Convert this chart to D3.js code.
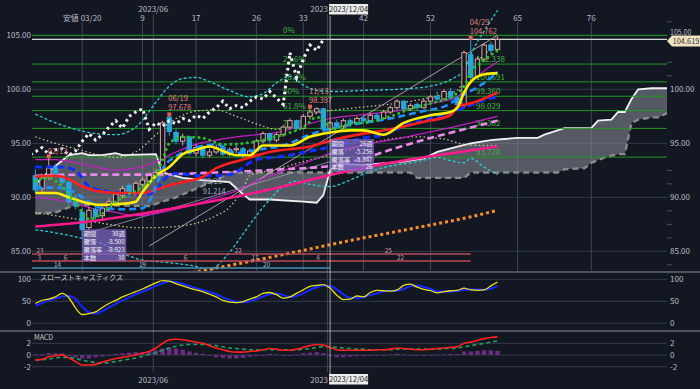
<!DOCTYPE html>
<html lang="ja">
<head>
<meta charset="UTF-8">
<title>週足チャート</title>
<script src="https://d3js.org/d3.v7.min.js"></script>
<style>
  html, body { margin: 0; padding: 0; background: #131722; }
  svg { display: block; font-family: "Noto Sans CJK JP", "DejaVu Sans", sans-serif; }
</style>
</head>
<body>
<svg width="700" height="389"></svg>
<script>
// weekly candles; index 0 is week -7, counted from the 03/20 low (week 0)
const firstWeek = -7;
const opens = [92.0, 90.8, 91.9, 92.8, 92.0, 91.4, 89.8,
  88.6, 87.2, 88.9, 88.3, 89.0, 89.5, 90.2, 91.1, 90.4, 91.2,
  91.5, 92.0, 92.2, 97.4, 96.0, 95.2, 95.6, 94.1, 94.6, 93.9,
  94.2, 94.6, 94.0, 94.4, 94.5, 93.9, 94.3, 95.2, 95.9, 95.3,
  95.8, 96.5, 97.1, 96.4, 97.5, 97.9, 98.2, 96.3, 96.9, 96.6,
  97.1, 96.8, 97.3, 97.1, 97.6, 97.3, 97.9, 98.3, 98.9, 98.2,
  98.6, 98.3, 98.9, 99.3, 99.1, 99.8, 99.2, 98.5, 103.2, 101.2,
  102.8, 104.1, 103.7];
const highs = [92.6, 92.2, 93.8, 93.1, 92.3, 91.6, 90.3,
  89.0, 89.1, 89.2, 89.3, 89.9, 90.6, 91.1, 91.3, 91.5, 91.9,
  92.3, 92.6, 97.1, 97.678, 96.3, 95.9, 95.7, 94.9, 94.8, 94.5,
  94.9, 94.8, 94.6, 94.8, 94.7, 94.5, 95.4, 96.1, 96.0, 96.0,
  96.7, 97.3, 97.2, 97.7, 98.397, 98.35, 98.3, 97.1, 97.2, 97.3,
  97.3, 97.5, 97.6, 97.8, 97.8, 98.1, 98.5, 99.1, 99.0, 98.7,
  98.8, 99.1, 99.5, 99.8, 100.0, 100.1, 99.4, 103.6, 104.762, 103.0,
  104.3, 104.4, 104.9];
const lows = [90.4, 90.5, 91.6, 91.8, 91.2, 89.3, 88.9,
  86.4, 87.0, 87.9, 88.0, 88.7, 89.3, 89.9, 90.0, 90.2, 90.9,
  91.2, 91.7, 92.0, 95.7, 94.9, 94.8, 93.9, 93.8, 93.6, 93.7,
  94.0, 93.8, 93.8, 94.1, 93.6, 93.7, 94.2, 95.0, 95.0, 95.1,
  95.6, 96.3, 96.2, 96.3, 97.2, 97.7, 96.0, 96.1, 96.3, 96.4,
  96.5, 96.7, 96.9, 97.0, 97.1, 97.2, 97.7, 98.1, 98.0, 98.0,
  98.0, 98.2, 98.7, 98.9, 99.0, 99.0, 98.4, 98.3, 100.8, 101.0,
  102.6, 103.3, 103.5];
const closes = [90.7, 91.8, 92.7, 92.0, 91.4, 89.6, 89.2,
  87.0, 88.8, 88.2, 89.0, 89.6, 90.3, 90.8, 90.3, 91.3, 91.6,
  92.0, 92.3, 96.9, 96.1, 95.2, 95.6, 94.1, 94.6, 93.9, 94.2,
  94.6, 94.0, 94.4, 94.5, 93.9, 94.3, 95.2, 95.9, 95.3, 95.8,
  96.5, 97.1, 96.4, 97.5, 97.9, 98.2, 96.3, 96.9, 96.6, 97.1,
  96.8, 97.3, 97.1, 97.6, 97.3, 97.9, 98.3, 98.9, 98.2, 98.5,
  98.3, 98.9, 99.3, 99.1, 99.8, 99.2, 98.6, 103.4, 101.1, 102.8,
  104.1, 103.6, 104.619];

// overlay lines: [week, price]
const lineYellow = [[-7,90.4],[-4,90.4],[-2,90.0],[0,89.6],[3,89.3],[6,89.4],[8,89.6],[9,90.5],[11,92.0],[13,92.8],[15,94.0],[17,94.4],[19,94.7],[21,94.3],[23,93.9],[25,93.9],[27,94.8],[31,94.8],[34,95.6],[37,96.0],[40,96.2],[42,96.2],[45,95.8],[48,96.9],[52,97.6],[55,97.9],[56,98.3],[57,99.7],[58,100.7],[60,101.4],[62,101.5]];
const lineRed = [[-7,91.9],[-4,92.0],[-2,91.7],[0,91.0],[3,90.5],[6,90.4],[9,90.4],[11,90.7],[13,91.1],[15,91.4],[18,91.9],[20,92.7],[24,93.5],[28,94.2],[34,94.7],[38,95.4],[42,95.9],[46,96.3],[51,97.0],[55,97.6],[56,98.4],[58,98.7],[62,99.7]];
const lineBlue = [[-7,92.8],[-3,92.8],[-1,92.5],[1,91.0],[3,90.6],[6,90.4],[9,90.2],[11,90.6],[12,91.5],[14,92.2],[18,92.0],[22,92.1],[26,93.5],[30,93.8],[35,94.4],[38,94.8],[42,95.5],[45,95.8],[48,96.6],[52,97.3],[55,97.8],[57,98.3],[60,99.0],[62,99.3]];
const lineSky = [[-7,90.9],[-4,90.9],[-2,90.7],[0,90.0],[3,89.0],[6,88.9],[9,89.0],[10,89.6],[11,91.0],[12,92.6],[14,93.8],[17,94.6],[20,94.9],[23,94.1],[26,94.4],[30,94.8],[34,95.8],[38,96.5],[42,96.9],[46,97.3],[51,98.0],[54,98.4],[57,99.5],[60,100.6],[62,101.6]];
const lineGreen = [[-7,91.5],[-5,91.8],[-3,91.0],[-1,89.5],[1,88.0],[3,88.5],[5,89.6],[7,90.3],[9,91.0],[11,92.0],[12,93.5],[13,95.0],[15,95.6],[18,95.5],[21,94.9],[24,95.0],[27,95.3],[30,95.8],[33,96.5],[35,97.4],[36,97.2],[37,96.3],[40,96.8],[43,97.0],[46,97.5],[49,98.2],[52,98.7],[55,99.3],[57,100.3],[58,101.5],[60,102.7],[62,103.6]];
const linePink = [[-7,87.3],[0,87.7],[10,88.6],[20,89.7],[30,91.0],[38,92.2],[45,93.1],[52,93.8],[62,94.7]];
const lineViolet = [[-7,92.0],[0,92.1],[10,92.1],[20,92.3],[30,92.6],[37,92.9],[42,93.6],[47,94.6],[52,95.5],[57,96.3],[62,97.1]];
const lineOrange = [[12,82.5],[17,83.1],[22,83.7],[30,84.7],[40,86.0],[50,87.2],[58,88.2],[62,88.8]];

// bands
const band3Upper = [[-7,97.7],[-4,96.9],[-1,96.3],[2,95.9],[5,95.8],[8,96.5],[11,98.8],[13,100.3],[15,101.0],[17,101.1],[19,100.7],[22,99.9],[25,99.3],[27,99.6],[29,100.6],[31,101.2],[33,100.4],[35,99.9],[38,99.8],[42,99.9],[47,100.0],[52,100.3],[55,100.9],[57,101.8],[58,103.2],[59,104.4],[60,105.4],[62,107.3]];
const band3Lower = [[-7,87.0],[-3,86.6],[0,86.2],[3,85.7],[6,84.8],[9,84.2],[12,84.0],[15,83.8],[18,83.4],[19,83.1],[20,83.6],[22,84.9],[24,86.6],[26,88.3],[28,89.8],[30,91.0],[32,91.5],[34,91.2],[37,91.0],[40,91.6],[43,92.4],[46,92.9],[50,93.3],[53,93.7],[55,93.4],[57,93.2],[58,93.6],[60,92.8],[62,92.1]];
const band2Upper = [[-7,95.6],[-4,95.0],[-1,94.5],[2,94.0],[5,93.7],[8,94.2],[11,95.8],[13,96.9],[15,97.6],[17,98.0],[20,98.1],[23,97.5],[26,96.8],[29,96.3],[32,96.9],[35,97.8],[38,98.1],[41,98.3],[44,98.5],[47,98.7],[50,99.0],[53,99.4],[56,99.9],[57,100.9],[58,101.8],[60,103.2],[62,104.3]];
const band2Lower = [[-7,88.6],[-4,88.3],[-1,88.0],[2,87.7],[5,87.4],[8,87.2],[11,87.2],[14,87.3],[17,87.6],[20,88.3],[22,89.1],[24,90.8],[25,92.0],[29,92.6],[33,93.3],[37,93.9],[41,94.6],[46,95.4],[50,95.6],[54,95.4],[57,94.9],[60,94.8],[62,94.8]];
const band1Upper = [[-7,93.5],[-4,93.5],[-1,93.2],[2,92.8],[5,92.5],[8,92.7],[11,93.3],[14,94.2],[17,94.9],[20,95.3],[23,95.6],[26,95.8],[29,96.0],[32,96.5],[35,97.0],[38,97.4],[41,97.6],[44,97.8],[47,98.0],[50,98.4],[53,98.8],[56,99.3],[58,100.6],[60,101.7],[62,102.5]];
const band1Lower = [[-7,90.0],[-4,89.8],[-1,89.4],[2,88.9],[5,88.6],[8,88.3],[11,88.5],[14,88.9],[17,89.4],[20,90.0],[23,90.6],[26,91.5],[29,92.2],[32,92.9],[35,93.6],[38,94.3],[41,94.7],[44,95.1],[47,95.4],[50,95.8],[53,96.2],[56,96.6],[58,96.9],[60,97.2],[62,97.5]];

// cloud spans (already shifted forward)
const spanA = [[-7,91.2],[-5,92.4],[-2,93.9],[0,94.1],[1,93.9],[3,93.9],[5,94.1],[6,93.9],[11,94.0],[12,92.3],[15,91.8],[18,91.6],[22,91.4],[24,90.3],[25,89.8],[28,89.8],[33,89.6],[35,89.5],[36,90.2],[37,92.5],[38,93.1],[42,93.0],[48,93.3],[51,93.6],[53,94.2],[56,94.7],[58,95.0],[61,95.3],[63,95.4],[65,95.5],[68,95.5],[69,95.8],[72,96.4],[76,96.4],[77,97.1],[79,97.2],[80,97.9],[81,97.9],[82,99.1],[83,100.0],[85,100.1],[88,100.1]];
const spanB = [[-7,88.5],[-4,88.6],[-1,89.3],[0,89.3],[10,89.2],[11,89.4],[14,90.0],[17,90.8],[20,91.6],[22,92.3],[49,92.3],[50,91.8],[57,91.8],[58,92.3],[71,92.3],[72,92.6],[75,92.7],[76,93.2],[78,93.7],[80,94.0],[81,94.0],[82,96.9],[83,97.2],[85,97.4],[86,97.4],[88,98.0]];

// trend lines
const trendLines = [[[0,86.55],[37,93.3]], [[10,85.5],[62,105.0]]];

// fibonacci retracement
const fibHigh = 105.0, fibLow = 93.72;
const fibRatios = [0, 0.236, 0.382, 0.5, 0.618, 0.764, 1];
const fibNames = ["0%", "23.6%", "38.2%", "50%", "61.8%", "76.4%", ""];

// stochastics and macd
const stochK = [45,52,55,60,68,58,35, 20,22,26,36,45,52,60,66,72,78, 85,92,97,96,90,85,80,76,72,66,
  60,52,48,47,49,55,60,68,70,65, 57,60,68,76,84,86,88,80,64,54, 55,62,60,70,75,74,73,76,86,89,
  82,77,74,69,72,74,75,80,76,75, 76,85,94];
const stochD = [40,46,52,56,61,62,55, 38,25,22,28,36,44,52,59,66,72, 78,85,91,95,94,90,85,80,76,71,
  66,59,53,49,48,50,55,61,66,68, 64,60,62,68,76,82,86,85,77,66, 58,57,59,64,68,73,74,74,78,84,
  86,83,78,73,72,72,74,76,77,77, 76,79,85];
const macdLine = [-0.85,-0.75,-0.3,-0.1,0.0,-0.5,-1.1, -1.7,-1.7,-1.6,-1.2,-0.9,-0.6,-0.4,-0.2,0.0,0.3,
  0.6,1.2,2.0,2.6,2.7,2.6,2.4,2.2,2.0,1.6, 1.2,0.9,0.6,0.5,0.5,0.6,0.7,0.9,1.1,1.0,
  0.8,0.8,1.0,1.3,1.6,1.8,1.7,1.3,0.9,0.8, 0.8,0.8,0.8,0.8,0.9,0.9,1.0,1.2,1.1,1.0,
  0.9,0.9,1.0,1.1,1.2,1.3,1.4,2.0,2.2,2.5, 2.8,3.0,3.1];
const macdSignal = [-0.9,-0.8,-0.7,-0.5,-0.4,-0.4,-0.6, -0.9,-1.1,-1.3,-1.4,-1.3,-1.1,-0.9,-0.7,-0.5,-0.2,
  0.1,0.4,0.8,1.2,1.5,1.7,1.8,1.8,1.8,1.7, 1.6,1.4,1.2,1.1,1.0,0.9,0.9,0.9,0.9,0.9,
  0.9,0.9,0.9,1.0,1.1,1.3,1.4,1.4,1.3,1.2, 1.1,1.0,1.0,0.9,0.9,0.9,0.9,1.0,1.0,1.0,
  1.0,1.0,1.0,1.0,1.1,1.1,1.2,1.4,1.6,1.8, 2.0,2.2,2.4];
const macdHist = [0.1,0.1,0.3,0.3,0.3,-0.1,-0.4, -0.6,-0.6,-0.4,-0.3,-0.1,0.2,0.3,0.4,0.5,0.5,
  0.5,0.8,1.1,1.3,1.1,0.9,0.6,0.4,0.2,-0.1, -0.4,-0.5,-0.6,-0.6,-0.5,-0.3,-0.2,0.0,0.2,0.1,
  -0.1,-0.1,0.1,0.3,0.4,0.5,0.3,-0.1,-0.4,-0.4, -0.3,-0.2,-0.2,-0.1,0.0,0.0,0.1,0.2,0.1,0.0,
  -0.1,-0.1,0.0,0.1,0.1,0.2,0.2,0.6,0.6,0.7, 0.8,0.8,0.7];

// axes and markers
const priceTicks = [105, 100, 95, 90, 85];
const minorTicks = [106.25, 102.5, 101.25, 92.5, 91.25, 88.75, 87.5, 86.25, 83.75];
const stochTicks = [100, 50, 0];
const macdTicks = [2, 0, -2];
const weekMarks = [9, 17, 26, 33, 42, 52, 65, 76];
const lowMark = {w: 0, label: "安値 03/20"};
const monthMarks = [{w: 10.6, label: "2023/06"}, {w: 36.6, label: "2023/12"}];
const cursorWeek = 37, cursorLabel = "2023/12/04";
const lastPrice = 104.619;
const peakLabels = [{w: -5, date: "02/13", price: null}, {w: 13, date: "06/19", price: "97.678"},
  {w: 34, date: "11/13", price: "98.397"}, {w: 58, date: "04/29", price: "104.762"}];
const troughLabel = {w: 18, date: "09/25", price: 91.214};
const measureBoxes = [
  {w: 0, price: 87.05, rows: [["期間", "38週"], ["騰落", "-8.500"], ["騰落率", "-8.923"], ["本数", "38"]]},
  {w: 37, price: 95.4, rows: [["期間", "26週"], ["騰落", "-5.256"], ["騰落率", "-5.847"], ["本数", "26"]]}
];
const cycleRows = [
  {end: 58, marks: [[-6.3, "23"], [23.3, "22"], [45.7, "25"]]},
  {end: 58, marks: [[-6.4, "3"], [-2.5, "6"], [15.4, "6"], [25.8, "17"], [35.2, "4"], [47.5, "22"]]},
  {end: 37, marks: [[-3.7, "14"], [9, "19"], [27.5, "20"]]}
];

const svg = d3.select("svg");
const bg = "#131722", grid = "#343b4b", txt = "#b9bdc7";
const L = 32, R = 667;
const x = d3.scaleLinear().domain([-7.35, 87.3]).range([33, 667]);
const y = d3.scaleLinear().domain([83.18, 108.27]).range([271, 0]);
const yS = d3.scaleLinear().domain([0, 100]).range([323.3, 279.3]);
const yM = d3.scaleLinear().domain([-2, 2]).range([366.7, 343.3]);
const wk = i => firstWeek + i;

svg.append("rect").attr("width", 700).attr("height", 389).attr("fill", bg);
const defs = svg.append("defs");
[["cMain", 0, 271], ["cStoch", 272, 59], ["cMacd", 331, 41]].forEach(([id, t, h]) =>
  defs.append("clipPath").attr("id", id).append("rect").attr("x", L).attr("y", t).attr("width", R - L).attr("height", h));

// ---- grid ----
const gGrid = svg.append("g");
priceTicks.forEach(p => gGrid.append("line").attr("x1", L).attr("x2", R).attr("y1", y(p)).attr("y2", y(p)).attr("stroke", grid));
stochTicks.forEach(p => gGrid.append("line").attr("x1", L).attr("x2", R).attr("y1", yS(p)).attr("y2", yS(p)).attr("stroke", grid));
macdTicks.forEach(p => gGrid.append("line").attr("x1", L).attr("x2", R).attr("y1", yM(p)).attr("y2", yM(p)).attr("stroke", grid));
minorTicks.forEach(p => gGrid.append("line").attr("x1", R).attr("x2", R + 5).attr("y1", y(p)).attr("y2", y(p)).attr("stroke", "#4a5060"));
[lowMark.w, ...weekMarks].forEach(w => gGrid.append("line").attr("x1", x(w)).attr("x2", x(w)).attr("y1", 22).attr("y2", 271).attr("stroke", "#3e4556"));
monthMarks.forEach(m => gGrid.append("line").attr("x1", x(m.w)).attr("x2", x(m.w)).attr("y1", 14).attr("y2", 372).attr("stroke", "#3e4556"));

// ---- main panel ----
const gMain = svg.append("g").attr("clip-path", "url(#cMain)");
const line = d3.line().x(d => x(d[0])).y(d => y(d[1]));
const smooth = d3.line().x(d => x(d[0])).y(d => y(d[1])).curve(d3.curveMonotoneX);

// cloud
const cloudPts = spanA.concat(spanB.slice().reverse());
gMain.append("path").attr("d", line(cloudPts) + "Z").attr("fill", "#8d909a").attr("fill-opacity", 0.55);
gMain.append("path").attr("d", line(spanB)).attr("fill", "none").attr("stroke", "#8a8a8a").attr("stroke-width", 2.4).attr("stroke-dasharray", "6,4");
gMain.append("path").attr("d", line(spanA)).attr("fill", "none").attr("stroke", "#f2f2f2").attr("stroke-width", 1.8);

// fibonacci
const fibVal = r => fibHigh - r * (fibHigh - fibLow);
fibRatios.forEach((r, i) => {
  const v = fibVal(r);
  gMain.append("line").attr("x1", L).attr("x2", R).attr("y1", y(v)).attr("y2", y(v)).attr("stroke", "#1d9a1d").attr("stroke-width", 1);
  if (fibNames[i]) gMain.append("text").attr("x", 283).attr("y", y(v) - 2).attr("fill", "#3fb83f").attr("font-size", 8).text(fibNames[i]);
  if (i > 0) gMain.append("text").attr("x", 476).attr("y", y(v) - 2).attr("fill", "#3fb83f").attr("font-size", 8).text(v.toFixed(3));
});
gMain.append("line").attr("x1", L).attr("x2", R).attr("y1", y(lastPrice)).attr("y2", y(lastPrice)).attr("stroke", "#d8d8d8").attr("stroke-width", 1.2);

// trend lines
trendLines.forEach((t, i) => gMain.append("path").attr("d", line(t)).attr("stroke", i ? "#d9b7c4" : "#9a9aa8").attr("stroke-width", 0.8).attr("fill", "none"));

// bands
const drawLine = (data, color, w, dash, cap) => gMain.append("path").attr("d", smooth(data)).attr("fill", "none")
  .attr("stroke", color).attr("stroke-width", w).attr("stroke-dasharray", dash || null).attr("stroke-linecap", cap || "butt");
drawLine(band3Upper, "#2cc9cf", 1.3, "3,2");
drawLine(band3Lower, "#2cc9cf", 1.3, "3,2");
drawLine(band2Upper, "#c9c48a", 1.3, "1.5,2.5");
drawLine(band2Lower, "#c9c48a", 1.3, "1.5,2.5");
drawLine(band1Upper, "#c41fc4", 1.2);
drawLine(band1Lower, "#c41fc4", 1.2);

// candles
const cw = 4.4;
const gC = gMain.append("g");
closes.forEach((c, i) => {
  const o = opens[i], up = c >= o, col = up ? "#d8a69e" : "#29a6d8", cx = x(wk(i));
  gC.append("line").attr("x1", cx).attr("x2", cx).attr("y1", y(highs[i])).attr("y2", y(lows[i])).attr("stroke", col).attr("stroke-width", 1);
  gC.append("rect").attr("x", cx - cw / 2).attr("width", cw)
    .attr("y", y(Math.max(o, c))).attr("height", Math.max(1, Math.abs(y(o) - y(c))))
    .attr("fill", up ? bg : col).attr("stroke", col).attr("stroke-width", 1);
});

// moving averages
drawLine(lineOrange, "#ff9020", 3, "3,3");
drawLine(linePink, "#ff1a8c", 2.6);
drawLine(lineViolet, "#e98ae9", 2.6, "7,4");
drawLine(lineBlue, "#1030ff", 3, "7,4");
drawLine(lineRed, "#ff1f1f", 2.6);
drawLine(lineSky, "#1e8fff", 2.6, "7,4");
drawLine(lineYellow, "#ffee00", 2.6);
drawLine(lineGreen, "#22c822", 3, "0,5.5", "round");

// lagging span
const chikou = closes.map((c, i) => [wk(i) - 26, c]);
gMain.append("path").attr("d", line(chikou)).attr("fill", "none").attr("stroke", "#f2f2f2").attr("stroke-width", 3).attr("stroke-dasharray", "2.6,3.4");

// peak labels
peakLabels.forEach(p => {
  const i = p.w - firstWeek, px = x(p.w), py = y(highs[i]);
  gMain.append("rect").attr("x", px - 2).attr("y", py - 2).attr("width", 4).attr("height", 4).attr("fill", "#e0605a");
  const dy = p.price ? -13 : -2;
  gMain.append("text").attr("x", px - 1).attr("y", py + dy).attr("fill", "#e08078").attr("font-size", 7.5).text(p.date);
  if (p.price) gMain.append("text").attr("x", px - 1).attr("y", py - 4).attr("fill", "#e08078").attr("font-size", 7.5).text(p.price);
});
{
  const px = x(troughLabel.w), py = y(troughLabel.price);
  gMain.append("text").attr("x", px).attr("y", py).attr("fill", "#9fb0c8").attr("font-size", 7.5).text(troughLabel.date);
  gMain.append("text").attr("x", px).attr("y", py + 9.5).attr("fill", "#9fb0c8").attr("font-size", 7.5).text(troughLabel.price.toFixed(3));
}

// cycle counts
cycleRows.forEach((r, k) => {
  const ry = 254 + k * 7, col = k < 2 ? "#b84c5a" : "#4a8fae";
  gMain.append("line").attr("x1", L).attr("x2", x(r.end)).attr("y1", ry).attr("y2", ry).attr("stroke", col).attr("stroke-width", 1.3);
  r.marks.forEach(([w, n]) => gMain.append("text").attr("x", x(w)).attr("y", ry - 1).attr("text-anchor", "middle")
    .attr("fill", k < 2 ? "#c99aa0" : "#8fc0d8").attr("font-size", 6.3).text(n));
});

// measurement boxes
measureBoxes.forEach(b => {
  const bx = x(b.w), by = y(b.price);
  svg.append("rect").attr("x", bx).attr("y", by).attr("width", 44).attr("height", 32).attr("fill", "#7f68c8").attr("fill-opacity", 0.72);
  b.rows.forEach((r, j) => {
    svg.append("text").attr("x", bx + 1.5).attr("y", by + 7 + j * 7.8).attr("fill", "#f0f0f0").attr("font-size", 6.2).text(r[0]);
    svg.append("text").attr("x", bx + 42.5).attr("y", by + 7 + j * 7.8).attr("text-anchor", "end").attr("fill", "#f0f0f0").attr("font-size", 6.2).text(r[1]);
  });
});

// ---- stochastics ----
const gS = svg.append("g").attr("clip-path", "url(#cStoch)");
const sLine = d3.line().x((d, i) => x(wk(i))).y(d => yS(d)).curve(d3.curveMonotoneX);
gS.append("path").attr("d", sLine(stochD)).attr("fill", "none").attr("stroke", "#1428ff").attr("stroke-width", 2);
gS.append("path").attr("d", sLine(stochK)).attr("fill", "none").attr("stroke", "#ecdf1c").attr("stroke-width", 1.3);

// ---- macd ----
const gM = svg.append("g").attr("clip-path", "url(#cMacd)");
macdHist.forEach((h, i) => gM.append("rect").attr("x", x(wk(i)) - 2.2).attr("width", 4.4)
  .attr("y", Math.min(yM(h), yM(0))).attr("height", Math.max(0.8, Math.abs(yM(h) - yM(0)))).attr("fill", "#6a2e80"));
const mLine = d3.line().x((d, i) => x(wk(i))).y(d => yM(d)).curve(d3.curveMonotoneX);
gM.append("path").attr("d", mLine(macdSignal)).attr("fill", "none").attr("stroke", "#1f9e5e").attr("stroke-width", 1.6).attr("stroke-dasharray", "4,3");
gM.append("path").attr("d", mLine(macdLine)).attr("fill", "none").attr("stroke", "#ff2020").attr("stroke-width", 1.6);

// ---- separators ----
[272, 331].forEach(sy => svg.append("line").attr("x1", 0).attr("x2", 700).attr("y1", sy).attr("y2", sy).attr("stroke", "#8a8e98").attr("stroke-width", 1.2));

// ---- axis labels ----
const axisText = (tx, ty, s, anchor, size) => svg.append("text").attr("x", tx).attr("y", ty).attr("dy", "0.35em")
  .attr("text-anchor", anchor).attr("fill", txt).attr("font-size", size || 8).text(s);
priceTicks.forEach(p => {
  axisText(31, y(p), p.toFixed(2), "end");
  // the top right label sits partly behind the last-price tag in the original
  axisText(670, y(p) - (p === 105 ? 2.5 : 0), p.toFixed(2), "start", p === 105 ? 7 : 8);
});
stochTicks.forEach(p => { axisText(31, yS(p), p, "end"); axisText(670, yS(p), p, "start"); });
macdTicks.forEach(p => { axisText(31, yM(p), p, "end"); axisText(670, yM(p), p, "start"); });
svg.append("text").attr("x", 40).attr("y", 280).attr("fill", "#c8c8c8").attr("font-size", 7).text("スローストキャスティクス");
svg.append("text").attr("x", 34).attr("y", 340).attr("fill", "#c8c8c8").attr("font-size", 7).text("MACD");

weekMarks.forEach(w => axisText(x(w), 18.5, w, "middle"));
axisText(x(lowMark.w), 18.5, lowMark.label, "middle");
// month labels end just before the cursor tag, as in the original where the tag sits beside them
monthMarks.forEach(m => {
  const near = Math.abs(m.w - cursorWeek) < 2;
  axisText(near ? x(cursorWeek) - 2 : x(m.w), 9, near ? m.label.slice(0, 4) : m.label, near ? "end" : "middle");
  axisText(near ? x(cursorWeek) - 2 : x(m.w), 380, near ? m.label.slice(0, 4) : m.label, near ? "end" : "middle");
});

// cursor
const cx0 = x(cursorWeek);
svg.append("line").attr("x1", cx0).attr("x2", cx0).attr("y1", 16).attr("y2", 374).attr("stroke", "#c8c8c8").attr("stroke-width", 0.8);
[4, 374].forEach(ty => {
  svg.append("rect").attr("x", cx0 - 1).attr("y", ty).attr("width", 39).attr("height", 10.5).attr("fill", "#ececec");
  svg.append("text").attr("x", cx0 + 18.5).attr("y", ty + 5.3).attr("dy", "0.35em").attr("text-anchor", "middle")
    .attr("fill", "#222").attr("font-size", 7.5).text(cursorLabel);
});

// last price tag
{
  const py = y(lastPrice) + 1.5;
  svg.append("path").attr("d", `M667,${py} L672,${py - 5.5} L700,${py - 5.5} L700,${py + 5.5} L672,${py + 5.5} Z`).attr("fill", "#efe3c4");
  svg.append("text").attr("x", 686).attr("y", py).attr("dy", "0.35em").attr("text-anchor", "middle")
    .attr("fill", "#333").attr("font-size", 7.5).text(lastPrice.toFixed(3));
}
</script>
</body>
</html>
